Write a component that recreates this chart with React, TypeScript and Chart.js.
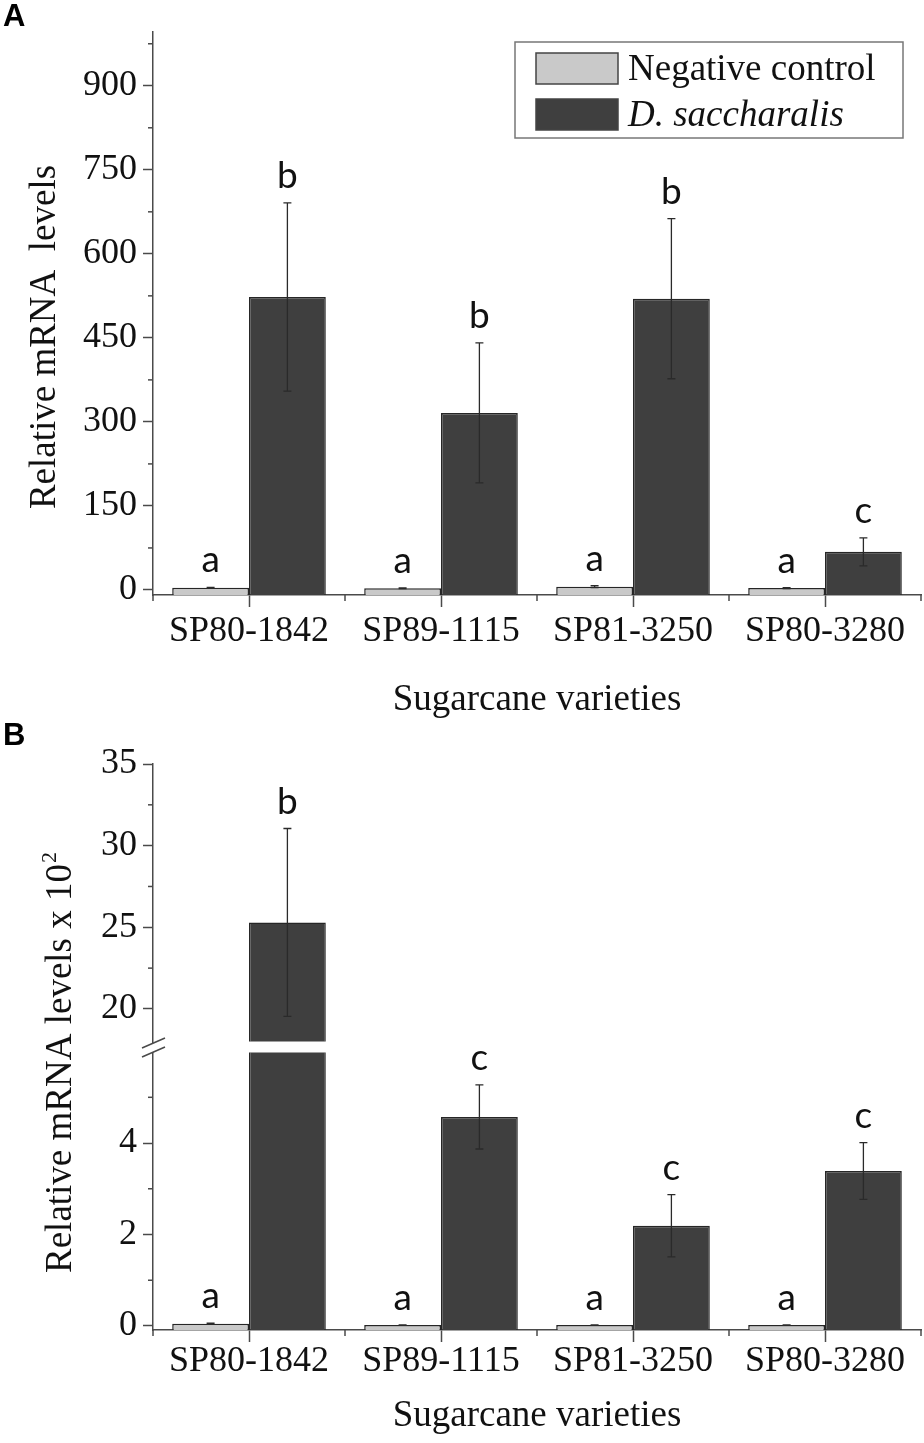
import React, { useEffect, useRef } from 'react';
import { Chart, registerables } from 'chart.js';

Chart.register(...registerables);

// ---- data ----
const varieties = ['SP80-1842', 'SP89-1115', 'SP81-3250', 'SP80-3280'];
const seriesNames = ['Negative control', 'D. saccharalis'];

// panel A: relative mRNA levels
const controlA = [3.8, 3.1, 5.9, 3.3];
const controlErrA = [0.8, 0.6, 1.6, 0.7];
const borerA = [523, 316, 520, 68];
const borerErrA = [168, 125, 143, 25];
const controlLettersA = ['a', 'a', 'a', 'a'];
const borerLettersA = ['b', 'b', 'b', 'c'];
const ticksA = [0, 150, 300, 450, 600, 750, 900];
const minorTicksA = [75, 225, 375, 525, 675, 825, 975];

// panel B: relative mRNA levels x 10^2 (broken axis)
const controlB = [0.05, 0.02, 0.02, 0.02];
const controlErrB = [0.01, 0.005, 0.005, 0.005];
const borerB = [25.3, 4.57, 2.19, 3.39];
const borerErrB = [5.75, 0.7, 0.68, 0.62];
const controlLettersB = ['a', 'a', 'a', 'a'];
const borerLettersB = ['b', 'c', 'c', 'c'];
const ticksBLow = [0, 2, 4];
const minorTicksBLow = [1, 3, 5];
const ticksBHigh = [20, 25, 30, 35];
const minorTicksBHigh = [22.5, 27.5, 32.5];

// ---- styles ----
const AXIS = '#4a4a4a';
const LIGHT = '#c9c9c9';
const DARK = '#3f3f3f';
const EDGE = '#262626';
const SERIF = '"Liberation Serif", "Times New Roman", serif';
const SANS = 'Lato, "Open Sans", sans-serif';

interface DecorSpec {
  minor: Record<string, number[]>;
  yTitle: string;
  ySup?: string;
  yTitleX: number;
  yTitleY: number;
  legend?: boolean;
  gap?: number;
  breakMark?: boolean;
}

// draws error bars, letters, minor ticks, legend, rotated y title and the axis break
function makeDecor(spec: DecorSpec) {
  return {
    id: 'decor',
    beforeDatasetDraw(chart: any, args: any) {
      const { ctx, chartArea } = chart;
      const ys = chart.scales[args.meta.yAxisID];
      const g = spec.gap || 0;
      let top = ys.top;
      let bottom = ys.bottom;
      if (top > chartArea.top + 1) top += g;
      if (bottom < chartArea.bottom - 1) bottom -= g;
      ctx.save();
      ctx.beginPath();
      ctx.rect(chartArea.left, top, chartArea.right - chartArea.left, bottom - top);
      ctx.clip();
    },
    afterDatasetDraw(chart: any, args: any) {
      const { ctx } = chart;
      const ds = chart.data.datasets[args.index];
      const ys = chart.scales[args.meta.yAxisID];
      if (ds.errors) {
        ctx.strokeStyle = '#2a2a2a';
        ctx.lineWidth = 1.3;
        args.meta.data.forEach((el: any, i: number) => {
          const v = ds.data[i];
          const e = ds.errors[i];
          const yt = ys.getPixelForValue(v + e);
          const yb = ys.getPixelForValue(v - e);
          ctx.beginPath();
          ctx.moveTo(el.x, yt);
          ctx.lineTo(el.x, yb);
          ctx.moveTo(el.x - 4, yt);
          ctx.lineTo(el.x + 4, yt);
          ctx.moveTo(el.x - 4, yb);
          ctx.lineTo(el.x + 4, yb);
          ctx.stroke();
        });
      }
      ctx.restore();
    },
    afterDraw(chart: any) {
      const { ctx, chartArea } = chart;
      ctx.save();

      // minor ticks on the value axes
      ctx.strokeStyle = AXIS;
      ctx.lineWidth = 1.5;
      Object.keys(spec.minor).forEach((id) => {
        const s = chart.scales[id];
        spec.minor[id].forEach((v) => {
          const y = s.getPixelForValue(v);
          ctx.beginPath();
          ctx.moveTo(chartArea.left - 5, y);
          ctx.lineTo(chartArea.left, y);
          ctx.stroke();
        });
      });

      // short ticks between categories
      const n = chart.data.labels.length;
      const w = (chartArea.right - chartArea.left) / n;
      for (let k = 0; k <= n; k++) {
        const x = chartArea.left + k * w;
        ctx.beginPath();
        ctx.moveTo(x, chartArea.bottom);
        ctx.lineTo(x, chartArea.bottom + 6);
        ctx.stroke();
      }

      // axis break
      if (spec.breakMark && chart.scales.yHigh) {
        const b = chart.scales.yHigh.bottom;
        const x = chartArea.left;
        ctx.fillStyle = '#ffffff';
        ctx.beginPath();
        ctx.moveTo(x - 11, b + 1);
        ctx.lineTo(x + 12, b - 9);
        ctx.lineTo(x + 12, b);
        ctx.lineTo(x - 11, b + 10);
        ctx.closePath();
        ctx.fill();
        ctx.beginPath();
        ctx.moveTo(x - 11, b + 1);
        ctx.lineTo(x + 12, b - 9);
        ctx.moveTo(x - 11, b + 10);
        ctx.lineTo(x + 12, b);
        ctx.stroke();
      }

      // significance letters
      ctx.fillStyle = '#111';
      ctx.font = `37px ${SANS}`;
      ctx.textAlign = 'center';
      ctx.textBaseline = 'alphabetic';
      chart.data.datasets.forEach((ds: any, di: number) => {
        if (!ds.letters) return;
        const meta = chart.getDatasetMeta(di);
        const ys = chart.scales[meta.yAxisID];
        ds.letters.forEach((t: string, i: number) => {
          const top = ds.data[i] + ds.errors[i];
          if (top < ys.min || top > ys.max) return;
          ctx.fillText(t, meta.data[i].x, ys.getPixelForValue(top) - 15);
        });
      });

      // y title (rotated)
      ctx.save();
      ctx.translate(spec.yTitleX, spec.yTitleY);
      ctx.rotate(-Math.PI / 2);
      ctx.font = `37px ${SERIF}`;
      ctx.textAlign = 'left';
      const wMain = ctx.measureText(spec.yTitle).width;
      let wSup = 0;
      if (spec.ySup) {
        ctx.font = `22px ${SERIF}`;
        wSup = ctx.measureText(spec.ySup).width;
      }
      const start = -(wMain + wSup) / 2;
      ctx.font = `37px ${SERIF}`;
      ctx.fillText(spec.yTitle, start, 0);
      if (spec.ySup) {
        ctx.font = `22px ${SERIF}`;
        ctx.fillText(spec.ySup, start + wMain + 1, -15);
      }
      ctx.restore();

      // legend box
      if (spec.legend) {
        const lx = chartArea.right - 406;
        const ly = chartArea.top + 10;
        ctx.strokeStyle = '#777';
        ctx.lineWidth = 1.5;
        ctx.strokeRect(lx, ly, 388, 96);
        const ds = chart.data.datasets;
        [0, 1].forEach((k) => {
          const sy = ly + 11 + k * 46;
          ctx.fillStyle = ds[k].backgroundColor;
          ctx.fillRect(lx + 21, sy, 82, 31);
          ctx.strokeStyle = '#444';
          ctx.lineWidth = 1.5;
          ctx.strokeRect(lx + 21, sy, 82, 31);
          ctx.fillStyle = '#111';
          ctx.textAlign = 'left';
          ctx.font = `${k === 1 ? 'italic ' : ''}37px ${SERIF}`;
          ctx.fillText(ds[k].label, lx + 113, sy + 27);
        });
      }
      ctx.restore();
    },
  };
}

const yGrid = {
  drawOnChartArea: false,
  drawTicks: true,
  tickLength: 10,
  tickWidth: 1.5,
  tickColor: AXIS,
};
const yBorder = { display: true, color: AXIS, width: 1.5 };
const yTickStyle = { font: { size: 36, family: SERIF }, color: '#111', padding: 6 };

function xScale(labelPad: number, titlePad: number, height: number) {
  return {
    type: 'category',
    offset: true,
    grid: { offset: false, drawOnChartArea: false, drawTicks: true, tickLength: 12, tickWidth: 1.5, tickColor: AXIS },
    border: { display: true, color: AXIS, width: 1.5 },
    ticks: { font: { size: 36, family: SERIF }, color: '#111', padding: labelPad, maxRotation: 0, autoSkip: false },
    title: { display: true, text: 'Sugarcane varieties', color: '#111', font: { size: 37, family: SERIF }, padding: { top: 0, bottom: titlePad } },
    afterFit: (s: any) => { s.height = height; },
  };
}

function barSet(label: string, data: number[], errors: number[], letters: string[], color: string, stack: string, yAxisID: string, base: number) {
  return {
    label, data, errors, letters, stack, yAxisID, base,
    backgroundColor: color,
    borderColor: EDGE,
    borderWidth: 1.5,
  };
}

const baseOptions = {
  responsive: false,
  animation: false,
  events: [],
  datasets: { bar: { categoryPercentage: 0.8, barPercentage: 1 } },
  plugins: { legend: { display: false }, tooltip: { enabled: false } },
};

function configA(): any {
  const yMin = -9;
  return {
    type: 'bar',
    data: {
      labels: varieties,
      datasets: [
        barSet(seriesNames[0], controlA, controlErrA, controlLettersA, LIGHT, 'control', 'y', yMin),
        barSet(seriesNames[1], borerA, borerErrA, borerLettersA, DARK, 'borer', 'y', yMin),
      ],
    },
    options: {
      ...baseOptions,
      layout: { padding: { top: 32, right: 3, left: 0, bottom: 0 } },
      scales: {
        x: xScale(3, 3, 130),
        y: {
          min: yMin,
          max: 996,
          stacked: false,
          afterBuildTicks: (s: any) => { s.ticks = ticksA.map((value) => ({ value })); },
          afterFit: (s: any) => { s.width = 153; },
          ticks: yTickStyle,
          grid: yGrid,
          border: yBorder,
        },
      },
    },
    plugins: [makeDecor({ minor: { y: minorTicksA }, yTitle: 'Relative mRNA  levels', yTitleX: 55, yTitleY: 337, legend: true })],
  };
}

function configB(): any {
  const lowMin = -0.088;
  return {
    type: 'bar',
    data: {
      labels: varieties,
      datasets: [
        barSet(seriesNames[0], controlB, controlErrB, controlLettersB, LIGHT, 'control', 'yLow', lowMin),
        barSet(seriesNames[1], borerB, borerErrB, borerLettersB, DARK, 'borer', 'yLow', lowMin),
        barSet(seriesNames[1], borerB, borerErrB, borerLettersB, DARK, 'borer', 'yHigh', lowMin),
      ],
    },
    options: {
      ...baseOptions,
      layout: { padding: { top: 39, right: 3, left: 0, bottom: 0 } },
      scales: {
        x: xScale(-2, 5, 113),
        yLow: {
          type: 'linear',
          position: 'left',
          stack: 'broken',
          stackWeight: 1,
          min: lowMin,
          max: 6.1,
          stacked: false,
          afterBuildTicks: (s: any) => { s.ticks = ticksBLow.map((value) => ({ value })); },
          afterFit: (s: any) => { s.width = 153; },
          ticks: yTickStyle,
          grid: yGrid,
          border: yBorder,
        },
        yHigh: {
          type: 'linear',
          position: 'left',
          stack: 'broken',
          stackWeight: 1,
          min: 17.67,
          max: 35,
          stacked: false,
          afterBuildTicks: (s: any) => { s.ticks = ticksBHigh.map((value) => ({ value })); },
          afterFit: (s: any) => { s.width = 153; },
          ticks: yTickStyle,
          grid: yGrid,
          border: yBorder,
        },
      },
    },
    plugins: [makeDecor({
      minor: { yLow: minorTicksBLow, yHigh: minorTicksBHigh },
      yTitle: 'Relative mRNA levels x 10',
      ySup: '2',
      yTitleX: 71,
      yTitleY: 338,
      gap: 5.5,
      breakMark: true,
    })],
  };
}

const Panel: React.FC<{ top: number; height: number; makeConfig: () => any }> = ({ top, height, makeConfig }) => {
  const chartRef = useRef<HTMLCanvasElement>(null);

  useEffect(() => {
    if (!chartRef.current) return;
    const chart = new Chart(chartRef.current, makeConfig());
    return () => chart.destroy();
  }, [makeConfig]);

  return (
    <canvas
      ref={chartRef}
      width={924}
      height={height}
      style={{ position: 'absolute', left: 0, top, width: 924, height, display: 'block' }}
    />
  );
};

const panelLabel: React.CSSProperties = {
  position: 'absolute',
  left: 3,
  fontFamily: '"Liberation Sans", Arial, sans-serif',
  fontWeight: 'bold',
  fontSize: 31,
  lineHeight: 1,
  color: '#000',
};

export default function App() {
  return (
    <div style={{ position: 'absolute', left: 0, top: 0, width: 924, height: 1443, background: '#fff', overflow: 'hidden' }}>
      <Panel top={0} height={725} makeConfig={configA} />
      <Panel top={725} height={718} makeConfig={configB} />
      <div style={{ ...panelLabel, top: 0 }}>A</div>
      <div style={{ ...panelLabel, top: 719 }}>B</div>
    </div>
  );
}
